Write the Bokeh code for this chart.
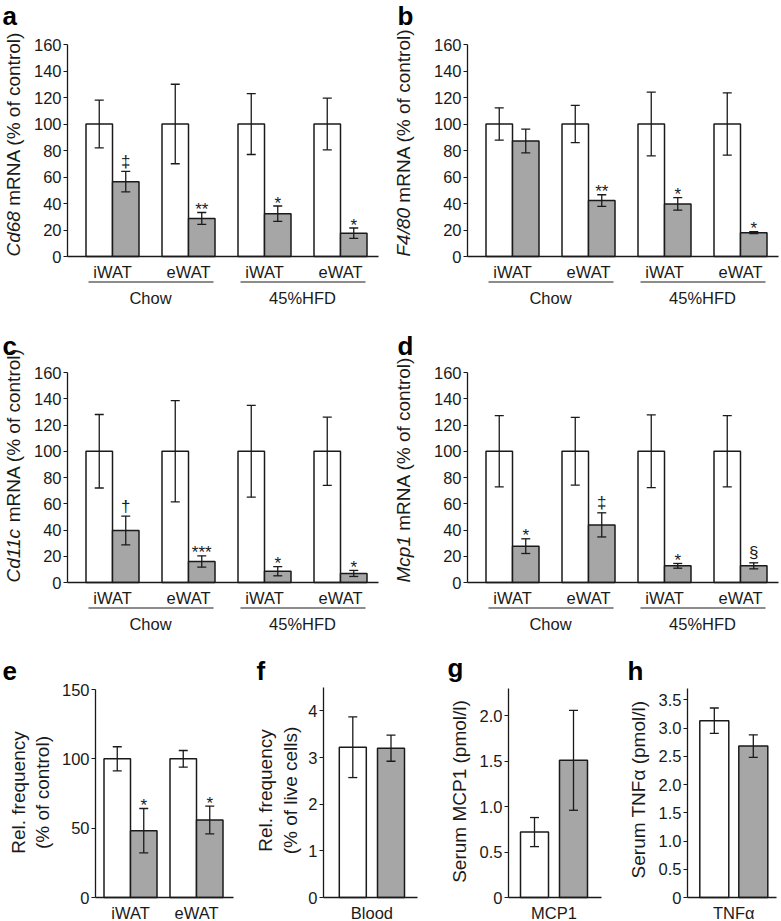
import math
from bokeh.plotting import figure
from bokeh.models import ColumnDataSource, Whisker, TeeHead, FixedTicker, Label, Range1d
from bokeh.layouts import row, column
from bokeh.embed import file_html
from bokeh.resources import INLINE
from bokeh.core.properties import value

# ---------------- data ----------------
tissues = ["iWAT", "eWAT", "iWAT", "eWAT"]
diets = ["Chow", "45%HFD"]

cd68_ctrl = [100, 100, 100, 100]
cd68_ctrl_err = [18, 30, 23, 19.5]
cd68_ko = [56.5, 28.7, 32.3, 17.6]
cd68_ko_err = [7.7, 4.5, 5.8, 3.9]
cd68_sig = ["‡", "**", "*", "*"]

f480_ctrl = [100, 100, 100, 100]
f480_ctrl_err = [12.2, 14.0, 24.0, 23.5]
f480_ko = [87.2, 42.2, 39.7, 18.0]
f480_ko_err = [9.0, 4.4, 4.7, 0.8]
f480_sig = ["", "**", "*", "*"]

cd11c_ctrl = [100, 100, 100, 100]
cd11c_ctrl_err = [28.0, 38.6, 35.0, 26.0]
cd11c_ko = [39.6, 16.0, 8.6, 6.9]
cd11c_ko_err = [11.0, 4.3, 3.5, 2.3]
cd11c_sig = ["†", "***", "*", "*"]

mcp1_ctrl = [100, 100, 100, 100]
mcp1_ctrl_err = [27.2, 25.8, 27.7, 27.2]
mcp1_ko = [27.7, 43.9, 12.7, 12.7]
mcp1_ko_err = [5.6, 9.2, 1.8, 2.3]
mcp1_sig = ["*", "‡", "*", "§"]

freq_tissues = ["iWAT", "eWAT"]
freq_ctrl = [100, 100]
freq_ctrl_err = [8.7, 6.0]
freq_ko = [48.2, 55.9]
freq_ko_err = [16.0, 10.0]
freq_sig = ["*", "*"]

blood_cat = ["Blood"]
blood_ctrl = [3.22]
blood_ctrl_err = [0.65]
blood_ko = [3.20]
blood_ko_err = [0.28]

serum_mcp1_cat = ["MCP1"]
serum_mcp1_ctrl = [0.72]
serum_mcp1_ctrl_err = [0.16]
serum_mcp1_ko = [1.51]
serum_mcp1_ko_err = [0.55]

tnf_cat = ["TNFα"]
tnf_ctrl = [3.13]
tnf_ctrl_err = [0.225]
tnf_ko = [2.68]
tnf_ko_err = [0.20]

ticks_160 = [0, 20, 40, 60, 80, 100, 120, 140, 160]
labels_160 = ["0", "20", "40", "60", "80", "100", "120", "140", "160"]
ticks_150 = [0, 50, 100, 150]
labels_150 = ["0", "50", "100", "150"]
ticks_f = [0, 1, 2, 3, 4]
labels_f = ["0", "1", "2", "3", "4"]
ticks_g = [0, 0.5, 1.0, 1.5, 2.0]
labels_g = ["0", "0.5", "1.0", "1.5", "2.0"]
ticks_h = [0, 0.5, 1.0, 1.5, 2.0, 2.5, 3.0, 3.5]
labels_h = ["0", "0.5", "1.0", "1.5", "2.0", "2.5", "3.0", "3.5"]

# ---------------- style ----------------
FONT = "Liberation Sans"
INK = "#1a1a1a"
GREY = "#a6a6a6"
TICK_SIZE = "16.5px"

W = {"C": 722, "d": 556, "6": 556, "8": 556, "1": 556, "c": 500, "F": 611,
     "4": 556, "/": 278, "0": 556, "M": 833, "p": 556, " ": 278}


def tw(s, size):
    return sum(W.get(ch, 556) for ch in s) * size / 1000.0


def build(g, cats, ctrl, ctrl_err, ko, ko_err, sig, yticks, ylabels, ymax):
    ppu = (g["zero"] - g["FT"]) / ymax
    sp = g["sp"]

    def X(px):
        return 1 + (px - g["cx1"]) / sp

    def Y(py):
        return (g["zero"] - py) / ppu

    p = figure(width=g["X1"] - g["X0"], height=g["Y1"] - g["Y0"],
               min_border_left=0, min_border_right=0, min_border_top=0, min_border_bottom=0,
               x_range=Range1d(X(g["X0"]), X(g["X1"])), y_range=Range1d(Y(g["Y1"]), Y(g["Y0"])),
               toolbar_location=None, output_backend="svg", title=None)
    p.outline_line_color = None
    p.xgrid.grid_line_color = None
    p.ygrid.grid_line_color = None
    p.background_fill_color = "white"
    p.border_fill_color = "white"

    xs = list(range(1, len(cats) + 1))
    bw = g["bw"] / sp
    off = g["boff"] / sp
    src = ColumnDataSource(dict(
        xc=[x - off for x in xs], xk=[x + off for x in xs],
        ctrl=ctrl, ko=ko,
        cu=[m + e for m, e in zip(ctrl, ctrl_err)], cl=[m - e for m, e in zip(ctrl, ctrl_err)],
        ku=[m + e for m, e in zip(ko, ko_err)], kl=[m - e for m, e in zip(ko, ko_err)],
    ))
    p.vbar(x="xc", top="ctrl", bottom=0, width=bw, source=src,
           fill_color="white", line_color=INK, line_width=1.5)
    p.vbar(x="xk", top="ko", bottom=0, width=bw, source=src,
           fill_color=GREY, line_color=INK, line_width=1.5)
    for base, up, lo in [("xc", "cu", "cl"), ("xk", "ku", "kl")]:
        p.add_layout(Whisker(base=base, upper=up, lower=lo, source=src, level="overlay",
                             line_color=INK, line_width=1.3,
                             upper_head=TeeHead(size=9, line_color=INK, line_width=1.3),
                             lower_head=TeeHead(size=9, line_color=INK, line_width=1.3)))
    if sig is not None:
        src.data["sig"] = sig
        src.data["sig_off"] = [-3 if s.startswith("*") else -10 for s in sig]
        p.text(x="xk", y="ku", text="sig", y_offset="sig_off", source=src,
               text_align="center", text_baseline="alphabetic",
               text_font=value(FONT), text_font_size="17px", text_color=INK)

    ya = p.yaxis[0]
    ya.fixed_location = X(g["FL"])
    ya.ticker = FixedTicker(ticks=yticks)
    ya.major_label_overrides = {t: l for t, l in zip(yticks, ylabels)}
    ya.bounds = (0, ymax)
    ya.axis_line_color = INK
    ya.axis_line_width = 1.3
    ya.major_tick_line_color = INK
    ya.major_tick_line_width = 1.2
    ya.major_tick_out = 4
    ya.major_tick_in = 0
    ya.minor_tick_line_color = None
    ya.major_label_standoff = 2
    ya.major_label_text_font = FONT
    ya.major_label_text_font_size = TICK_SIZE
    ya.major_label_text_color = INK

    xa = p.xaxis[0]
    xa.fixed_location = 0
    xa.bounds = (X(g["FL"]), X(g["FR"]))
    xa.ticker = FixedTicker(ticks=xs)
    xa.major_label_overrides = {x: c for x, c in zip(xs, cats)}
    xa.axis_line_color = INK
    xa.axis_line_width = 1.3
    xa.major_tick_line_color = None
    xa.major_tick_out = 0
    xa.major_tick_in = 0
    xa.minor_tick_line_color = None
    xa.minor_tick_out = 0
    xa.major_label_standoff = g["xstand"]
    xa.major_label_text_font = FONT
    xa.major_label_text_font_size = TICK_SIZE
    xa.major_label_text_color = INK
    return p, X, Y


def letter(p, X, Y, txt, lx, ly):
    p.add_layout(Label(x=X(lx), y=Y(ly), text=txt, text_font=FONT, text_font_size="26px",
                       text_font_style="bold", text_align="left", text_baseline="alphabetic",
                       text_color="black"))


def groups(p, X, Y, g):
    yu = Y(g["zero"] + 25.5)
    sp = g["sp"]
    p.segment(x0=[1 - 24 / sp, 3 - 24 / sp], y0=[yu, yu], x1=[2 + 25 / sp, 4 + 25 / sp], y1=[yu, yu],
              line_color=INK, line_width=1.2)
    p.text(x=[1.5, 3.5], y=[Y(g["zero"] + 41.5)] * 2, text=diets, text_align="center",
           text_baseline="middle", text_font=value(FONT), text_font_size=TICK_SIZE, text_color=INK)


def gene_title(p, X, Y, gene, cx, start_py, size=19):
    p.add_layout(Label(x=X(cx), y=Y(start_py), text=gene, angle=math.pi / 2,
                       text_align="left", text_baseline="middle", text_font=FONT,
                       text_font_size=f"{size}px", text_font_style="italic", text_color=INK))
    shift = tw(gene + " ", size)
    p.add_layout(Label(x=X(cx), y=Y(start_py - shift), text="mRNA (% of control)",
                       angle=math.pi / 2, text_align="left", text_baseline="middle",
                       text_font=FONT, text_font_size=f"{size}px", text_color=INK))


def vtitle(p, X, Y, txt, cx, cy, size=19):
    p.add_layout(Label(x=X(cx), y=Y(cy), text=txt, angle=math.pi / 2,
                       text_align="center", text_baseline="middle", text_font=FONT,
                       text_font_size=f"{size}px", text_color=INK))


# ---------------- panels a-d ----------------
geo_a = dict(X0=0, Y0=0, X1=390, Y1=308, FL=67, FR=378, FT=44, zero=256,
             cx1=112, sp=76, bw=26.5, boff=13.25, xstand=6)
geo_b = dict(geo_a, X0=390, X1=781, FL=467, FR=778, cx1=512)
geo_c = dict(geo_a, Y0=308, Y1=633, FT=372, zero=582)
geo_d = dict(geo_c, X0=390, X1=781, FL=467, FR=778, cx1=512)

pa, Xa, Ya = build(geo_a, tissues, cd68_ctrl, cd68_ctrl_err, cd68_ko, cd68_ko_err, cd68_sig,
                   ticks_160, labels_160, 160)
groups(pa, Xa, Ya, geo_a)
letter(pa, Xa, Ya, "a", 2, 15)
gene_title(pa, Xa, Ya, "Cd68", 12.5, 256)

pb, Xb, Yb = build(geo_b, tissues, f480_ctrl, f480_ctrl_err, f480_ko, f480_ko_err, f480_sig,
                   ticks_160, labels_160, 160)
groups(pb, Xb, Yb, geo_b)
letter(pb, Xb, Yb, "b", 397, 15)
gene_title(pb, Xb, Yb, "F4/80", 403, 256)

pc, Xc, Yc = build(geo_c, tissues, cd11c_ctrl, cd11c_ctrl_err, cd11c_ko, cd11c_ko_err, cd11c_sig,
                   ticks_160, labels_160, 160)
groups(pc, Xc, Yc, geo_c)
letter(pc, Xc, Yc, "c", 2, 345)
gene_title(pc, Xc, Yc, "Cd11c", 12.5, 582)

pd_, Xd, Yd = build(geo_d, tissues, mcp1_ctrl, mcp1_ctrl_err, mcp1_ko, mcp1_ko_err, mcp1_sig,
                    ticks_160, labels_160, 160)
groups(pd_, Xd, Yd, geo_d)
letter(pd_, Xd, Yd, "d", 397, 345)
gene_title(pd_, Xd, Yd, "Mcp1", 403, 582)

# ---------------- panels e-h ----------------
geo_e = dict(X0=0, Y0=633, X1=250, Y1=921, FL=95, FR=233, FT=689, zero=897,
             cx1=130, sp=66, bw=26.5, boff=13.25, xstand=6)
geo_f = dict(geo_e, X0=250, X1=430, FL=323, FR=417, FT=687, cx1=371.4, sp=100, bw=27, boff=19.1)
geo_g = dict(geo_f, X0=430, X1=615, FL=508, FR=601, FT=688, cx1=553.5, bw=28, boff=19.5)
geo_h = dict(geo_f, X0=615, X1=781, FL=687, FR=776, FT=688, cx1=733.3, bw=29, boff=19.5)

pe, Xe, Ye = build(geo_e, freq_tissues, freq_ctrl, freq_ctrl_err, freq_ko, freq_ko_err, freq_sig,
                   ticks_150, labels_150, 150)
letter(pe, Xe, Ye, "e", 2, 670)
vtitle(pe, Xe, Ye, "Rel. frequency", 17.5, 792)
vtitle(pe, Xe, Ye, "(% of control)", 42, 792)

pf, Xf, Yf = build(geo_f, blood_cat, blood_ctrl, blood_ctrl_err, blood_ko, blood_ko_err, None,
                   ticks_f, labels_f, 4.5)
letter(pf, Xf, Yf, "f", 256, 670)
vtitle(pf, Xf, Yf, "Rel. frequency", 265, 790)
vtitle(pf, Xf, Yf, "(% of live cells)", 290, 790)

pg, Xg, Yg = build(geo_g, serum_mcp1_cat, serum_mcp1_ctrl, serum_mcp1_ctrl_err, serum_mcp1_ko,
                   serum_mcp1_ko_err, None, ticks_g, labels_g, 2.3)
letter(pg, Xg, Yg, "g", 447, 667)
vtitle(pg, Xg, Yg, "Serum MCP1 (pmol/l)", 459, 791)

ph, Xh, Yh = build(geo_h, tnf_cat, tnf_ctrl, tnf_ctrl_err, tnf_ko, tnf_ko_err, None,
                   ticks_h, labels_h, 3.7)
letter(ph, Xh, Yh, "h", 627, 670)
vtitle(ph, Xh, Yh, "Serum TNFα (pmol/l)", 637.5, 789)

layout = column(row(pa, pb), row(pc, pd_), row(pe, pf, pg, ph))

with open("out.html", "w", encoding="utf-8") as fh:
    fh.write(file_html(layout, INLINE))
